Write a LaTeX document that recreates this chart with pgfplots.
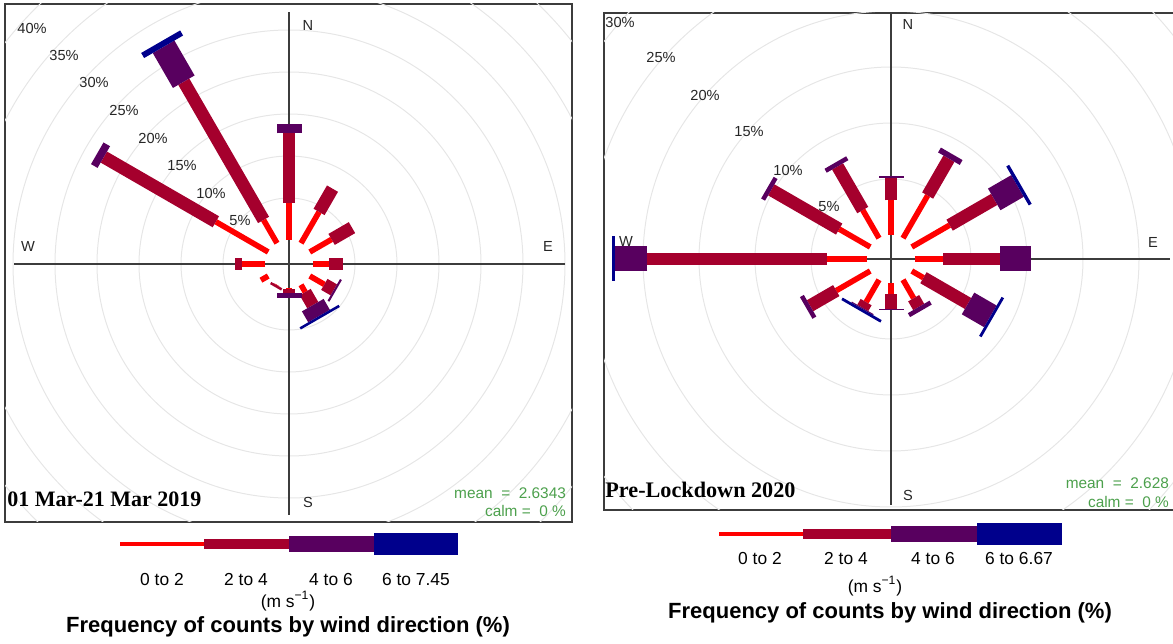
\documentclass[border=0pt]{standalone}
\usepackage{pgfplots}
\pgfplotsset{compat=1.18}
\usepackage{pgfplotstable}
\usepackage{fontspec}
\setmainfont{Liberation Sans}
\newfontfamily\tnr{Liberation Serif}
\definecolor{cA}{RGB}{255,0,0}
\definecolor{cB}{RGB}{165,0,45}
\definecolor{cC}{RGB}{88,0,95}
\definecolor{cD}{RGB}{0,0,140}
\definecolor{gridc}{RGB}{230,230,230}
\definecolor{axc}{RGB}{60,60,60}
\definecolor{meanc}{RGB}{76,160,76}

% wind direction (deg) and frequency (%) in each speed interval
% s1: 0-2, s2: 2-4, s3: 4-6, s4: >6 m/s
\pgfplotstableread{
dir s1 s2 s3 s4
0   4.4  8.3  1.1  0
30  4.3  3.2  0    0
60  3.0  2.8  0    0
90  1.9  1.7  0    0
120 2.0  1.3  0.25 0
150 1.0  1.8  1.5  0.3
180 0.15 0.4  0.7  0
210 0.05 0.3  0    0
240 1.0  0    0    0
270 2.7  0.9  0    0
300 7.2  15.4 0.9  0
330 3.2  19.0 4.8  0.7
}\tabL
\pgfplotstableread{
dir s1 s2 s3 s4
0   3.1  2.0  0.15 0
30  4.4  3.8  0.5  0
60  3.9  4.6  2.4  0.3
90  2.5  5.1  2.8  0
120 1.2  4.6  2.3  0.25
150 1.9  0.9  0.4  0
180 1.0  1.3  0.15 0
210 2.3  0.6  0.1  0.25
240 3.5  2.7  0.4  0
270 3.6  16.0 2.9  0.3
300 3.2  7.0  0.4  0
330 2.9  4.5  0.4  0
}\tabR

% #1 table, #2 px per %, #3 offset px, #4 inner cumulative expr, #5 column, #6 width, #7 colour
\newcommand{\seg}[7]{%
  \addplot[draw=#7, line width=#6, -, line cap=butt,
    quiver={u={#2*\thisrow{#5}*sin(\thisrow{dir})}, v={#2*\thisrow{#5}*cos(\thisrow{dir})}}]
    table[x expr={(#3+#2*(#4))*sin(\thisrow{dir})}, y expr={(#3+#2*(#4))*cos(\thisrow{dir})}] {#1};
}
\newcommand{\rose}[3]{%
  \seg{#1}{#2}{#3}{0}{s1}{2.8pt}{cA}
  \seg{#1}{#2}{#3}{\thisrow{s1}}{s2}{6.35pt}{cB}
  \seg{#1}{#2}{#3}{\thisrow{s1}+\thisrow{s2}}{s3}{12.5pt}{cC}
  \seg{#1}{#2}{#3}{\thisrow{s1}+\thisrow{s2}+\thisrow{s3}}{s4}{22.5pt}{cD}
}
\pgfplotsset{roseax/.style={anchor=south west, scale only axis,
  xtick=\empty, ytick=\empty, axis line style={draw=axc, line width=0.6pt}, clip=true}}

\begin{document}
\begin{tikzpicture}
\path[use as bounding box] (0,0) rectangle (586.5pt,321.5pt);
% ---------------- left panel ----------------
\begin{axis}[roseax, at={(2.5pt,60.5pt)}, width=283.5pt, height=259pt,
  xmin=-284, xmax=283, ymin=-258, ymax=260]
\pgfplotsinvokeforeach{1,...,9}{\draw[gridc, line width=0.5pt] (axis cs:0,0) circle[radius={(24+42*#1)*0.5pt}];}
\draw[axc, line width=0.6pt] (axis cs:-275,0) -- (axis cs:276,0);
\draw[axc, line width=0.6pt] (axis cs:0,-251) -- (axis cs:0,252);
\begin{scope}[font=\fontsize{7.3}{8}\selectfont, text=black!85]
\node at (axis cs:19,239) {N};
\node at (axis cs:19,-238) {S};
\node at (axis cs:-261,18) {W};
\node at (axis cs:259,18) {E};
\node at (axis cs:-49,43) {5\%};
\node at (axis cs:-78,71) {10\%};
\node at (axis cs:-107,98) {15\%};
\node at (axis cs:-136,126) {20\%};
\node at (axis cs:-165,154) {25\%};
\node at (axis cs:-195,182) {30\%};
\node at (axis cs:-225,209) {35\%};
\node at (axis cs:-257,236) {40\%};
\end{scope}
\rose{\tabL}{8.4}{24}
\node[anchor=east, text=meanc, font=\fontsize{7.7}{8}\selectfont] at (axis cs:284,-229) {mean\ \ =\ \ 2.6343};
\node[anchor=east, text=meanc, font=\fontsize{7.7}{8}\selectfont] at (axis cs:284,-247) {calm\ =\ \ 0 \%};
\node[anchor=west, inner sep=0pt, font=\tnr\bfseries\fontsize{11}{12}\selectfont] at (axis cs:-282,-235) {01 Mar-21 Mar 2019};
\end{axis}
% ---------------- right panel ----------------
\begin{axis}[roseax, at={(302pt,66.5pt)}, width=287pt, height=248.5pt,
  xmin=-287, xmax=287, ymin=-251, ymax=246]
\pgfplotsinvokeforeach{1,...,7}{\draw[gridc, line width=0.5pt] (axis cs:0,0) circle[radius={(24+56*#1)*0.5pt}];}
\draw[axc, line width=0.6pt] (axis cs:-278,0) -- (axis cs:279,0);
\draw[axc, line width=0.6pt] (axis cs:0,-246) -- (axis cs:0,247);
\begin{scope}[font=\fontsize{7.3}{8}\selectfont, text=black!85]
\node at (axis cs:17,235) {N};
\node at (axis cs:17,-236) {S};
\node at (axis cs:-265,18) {W};
\node at (axis cs:262,17) {E};
\node at (axis cs:-62,52) {5\%};
\node at (axis cs:-103,89) {10\%};
\node at (axis cs:-142,127) {15\%};
\node at (axis cs:-186,164) {20\%};
\node at (axis cs:-230,202) {25\%};
\node at (axis cs:-271,237) {30\%};
\end{scope}
\rose{\tabR}{11.2}{24}
\node[anchor=east, text=meanc, font=\fontsize{7.7}{8}\selectfont] at (axis cs:285,-224) {mean\ \ =\ \ 2.628};
\node[anchor=east, text=meanc, font=\fontsize{7.7}{8}\selectfont] at (axis cs:285,-243) {calm\ =\ \ 0 \%};
\node[anchor=west, inner sep=0pt, font=\tnr\bfseries\fontsize{11.1}{12}\selectfont] at (axis cs:-286,-231) {Pre-Lockdown 2020};
\end{axis}
% ---------------- legends ----------------
\fill[cA] (60pt,48.5pt) rectangle (102pt,50.5pt);
\fill[cB] (102pt,47pt) rectangle (144.5pt,52pt);
\fill[cC] (144.5pt,45.5pt) rectangle (187pt,53.5pt);
\fill[cD] (187pt,44pt) rectangle (229pt,55pt);
\begin{scope}[font=\fontsize{8.7}{9}\selectfont]
\node at (81pt,31.5pt) {0 to 2};
\node at (123pt,31.5pt) {2 to 4};
\node at (165.5pt,31.5pt) {4 to 6};
\node at (208pt,31.5pt) {6 to 7.45};
\node at (144pt,21pt) {(m s\textsuperscript{−1})};
\end{scope}
\node[font=\bfseries\fontsize{11}{12}\selectfont] at (144pt,8pt) {Frequency of counts by wind direction (\%)};

\fill[cA] (359.5pt,53.5pt) rectangle (401.5pt,55.5pt);
\fill[cB] (401.5pt,52pt) rectangle (445.5pt,57pt);
\fill[cC] (445.5pt,50.5pt) rectangle (488.5pt,58.5pt);
\fill[cD] (488.5pt,49pt) rectangle (531pt,60pt);
\begin{scope}[font=\fontsize{8.7}{9}\selectfont]
\node at (380pt,42pt) {0 to 2};
\node at (423pt,42pt) {2 to 4};
\node at (466.5pt,42pt) {4 to 6};
\node at (509.5pt,42pt) {6 to 6.67};
\node at (437.5pt,28.5pt) {(m s\textsuperscript{−1})};
\end{scope}
\node[font=\bfseries\fontsize{11}{12}\selectfont] at (445pt,15pt) {Frequency of counts by wind direction (\%)};
\end{tikzpicture}
\end{document}
